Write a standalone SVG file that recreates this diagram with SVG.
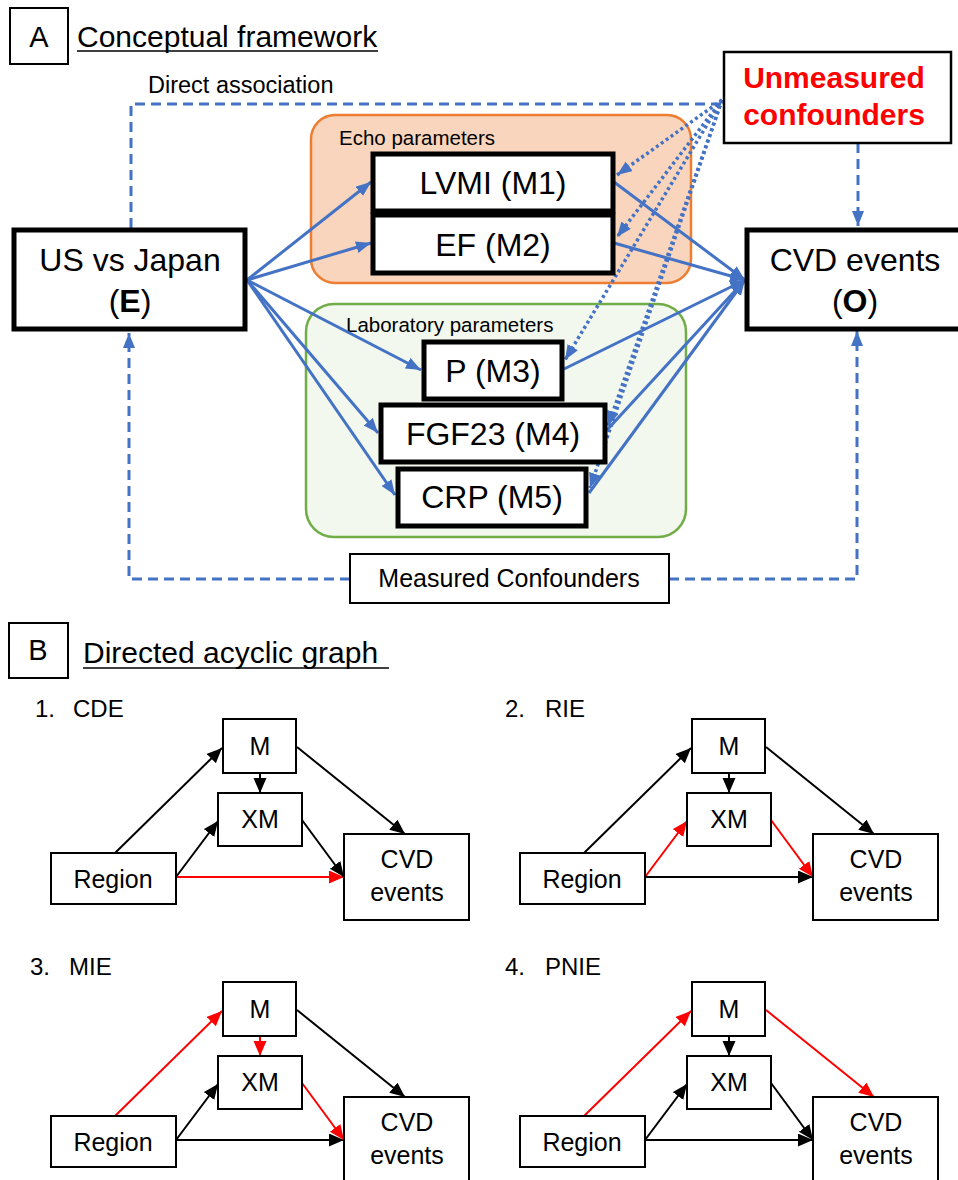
<svg xmlns="http://www.w3.org/2000/svg" width="958" height="1180" viewBox="0 0 958 1180">
<defs>
<style>
text{font-family:"Liberation Sans",Arial,sans-serif;fill:#000}
.title{font-size:30px}
.lbl{font-size:29px}
.big{font-size:32px}
.grp{font-size:20.5px}
.dag{font-size:25px}
.num{font-size:24px}
.thick{fill:#fff;stroke:#000;stroke-width:5}
.thin{fill:#fff;stroke:#000;stroke-width:2}
.bs{fill:none;stroke:#4472C4;stroke-width:3}
.bd{fill:none;stroke:#4472C4;stroke-width:3;stroke-dasharray:10 6}
.bo{fill:none;stroke:#4472C4;stroke-width:3.5;stroke-dasharray:3 3}
.k{fill:none;stroke:#000;stroke-width:2;marker-end:url(#ak)}
.r{fill:none;stroke:#FF0000;stroke-width:2;marker-end:url(#ar)}
</style>
<marker id="ab" markerUnits="userSpaceOnUse" markerWidth="16" markerHeight="13" refX="15" refY="6" orient="auto"><path d="M0,0 L15,6 L0,12 z" fill="#4472C4"/></marker>
<marker id="ak" markerUnits="userSpaceOnUse" markerWidth="16" markerHeight="14" refX="15" refY="6.5" orient="auto"><path d="M0,0 L15,6.5 L0,13 z" fill="#000"/></marker>
<marker id="ar" markerUnits="userSpaceOnUse" markerWidth="16" markerHeight="14" refX="15" refY="6.5" orient="auto"><path d="M0,0 L15,6.5 L0,13 z" fill="#FF0000"/></marker>
</defs>
<rect width="958" height="1180" fill="#fff"/>

<!-- Panel A header -->
<g id="panelA-label">
<rect x="10" y="8" width="58" height="56" fill="#fff" stroke="#000" stroke-width="2"/>
<text class="lbl" x="39" y="47" text-anchor="middle">A</text>
<text class="title" x="77" y="47">Conceptual framework</text>
<line x1="77" y1="51" x2="378" y2="51" stroke="#000" stroke-width="1.5"/>
</g>

<!-- group boxes -->
<g id="echo-group">
<rect x="311" y="115" width="380" height="168" rx="24" fill="#F8D5BC" stroke="#ED7D31" stroke-width="2.5"/>
<text class="grp" x="339" y="145">Echo parameters</text>
</g>
<g id="lab-group">
<rect x="306" y="304" width="380" height="233" rx="28" fill="#F2F8EE" stroke="#70AD47" stroke-width="2.5"/>
<text class="grp" x="346" y="332">Laboratory parameters</text>
</g>

<text x="148" y="93" style="font-size:23.5px">Direct association</text>

<!-- connectors panel A -->
<g id="connectors-A">
<path class="bd" d="M131,228 V104 H722"/>
<path class="bd" d="M858,143 V226" marker-end="url(#ab)"/>
<path class="bd" d="M350,579 H129 V333" marker-end="url(#ab)"/>
<path class="bd" d="M669,579 H857 V331" marker-end="url(#ab)"/>

<line class="bs" x1="247" y1="280" x2="371" y2="182" marker-end="url(#ab)"/>
<line class="bs" x1="247" y1="280" x2="371" y2="243" marker-end="url(#ab)"/>
<line class="bs" x1="247" y1="280" x2="421" y2="370" marker-end="url(#ab)"/>
<line class="bs" x1="247" y1="280" x2="378" y2="433" marker-end="url(#ab)"/>
<line class="bs" x1="247" y1="280" x2="395" y2="495" marker-end="url(#ab)"/>

<line class="bs" x1="614" y1="182" x2="745" y2="280" marker-end="url(#ab)"/>
<line class="bs" x1="614" y1="243" x2="745" y2="280" marker-end="url(#ab)"/>
<line class="bs" x1="564" y1="369" x2="745" y2="280" marker-end="url(#ab)"/>
<line class="bs" x1="607" y1="430" x2="745" y2="280" marker-end="url(#ab)"/>
<line class="bs" x1="589" y1="493" x2="745" y2="280" marker-end="url(#ab)"/>

<line class="bo" x1="722" y1="100" x2="617" y2="175" marker-end="url(#ab)"/>
<line class="bo" x1="722" y1="100" x2="617" y2="237" marker-end="url(#ab)"/>
<line class="bo" x1="722" y1="100" x2="565" y2="360" marker-end="url(#ab)"/>
<line class="bo" x1="722" y1="100" x2="608" y2="426" marker-end="url(#ab)"/>
<line class="bo" x1="722" y1="100" x2="590" y2="488" marker-end="url(#ab)"/>
</g>

<!-- nodes panel A -->
<g id="node-E">
<rect class="thick" x="14" y="230" width="231" height="99"/>
<text class="big" x="130" y="271" text-anchor="middle">US vs Japan</text>
<text class="big" x="130" y="312" text-anchor="middle">(<tspan font-weight="bold">E</tspan>)</text>
</g>
<g id="node-O">
<rect class="thick" x="747" y="230" width="216" height="99"/>
<text class="big" x="855" y="271" text-anchor="middle">CVD events</text>
<text class="big" x="855" y="312" text-anchor="middle">(<tspan font-weight="bold">O</tspan>)</text>
</g>
<g id="node-M1">
<rect class="thick" x="373" y="154" width="240" height="57"/>
<text class="big" x="493" y="194" text-anchor="middle">LVMI (M1)</text>
</g>
<g id="node-M2">
<rect class="thick" x="373" y="215" width="240" height="58"/>
<text class="big" x="493" y="256" text-anchor="middle">EF (M2)</text>
</g>
<g id="node-M3">
<rect class="thick" x="424" y="342" width="138" height="57"/>
<text class="big" x="493" y="382" text-anchor="middle">P (M3)</text>
</g>
<g id="node-M4">
<rect class="thick" x="381" y="405" width="224" height="57"/>
<text class="big" x="493" y="445" text-anchor="middle">FGF23 (M4)</text>
</g>
<g id="node-M5">
<rect class="thick" x="398" y="469" width="188" height="57"/>
<text class="big" x="492" y="508" text-anchor="middle">CRP (M5)</text>
</g>
<g id="node-unmeasured">
<rect x="724" y="52" width="227" height="91" fill="#fff" stroke="#000" stroke-width="2.5"/>
<text x="834" y="88" text-anchor="middle" font-weight="bold" style="font-size:30px;fill:#FF0000">Unmeasured</text>
<text x="834" y="125" text-anchor="middle" font-weight="bold" style="font-size:30px;fill:#FF0000">confounders</text>
</g>
<g id="node-measured">
<rect x="350" y="554" width="319" height="49" fill="#fff" stroke="#000" stroke-width="2"/>
<text x="509" y="587" text-anchor="middle" style="font-size:25px">Measured Confounders</text>
</g>

<!-- Panel B header -->
<g id="panelB-label">
<rect x="9" y="623" width="59" height="55" fill="#fff" stroke="#000" stroke-width="2"/>
<text class="lbl" x="38" y="660" text-anchor="middle">B</text>
<text class="title" x="83" y="663">Directed acyclic graph</text>
<line x1="83" y1="668" x2="389" y2="668" stroke="#000" stroke-width="1.5"/>
</g>

<!-- DAG 1 -->
<g id="dag1">
<text class="num" x="35" y="717">1.</text><text class="num" x="73" y="717">CDE</text>
<g id="dag1-connectors">
<line class="k" x1="115" y1="853" x2="222" y2="748"/>
<line class="k" x1="260" y1="773" x2="260" y2="793"/>
<line class="k" x1="176" y1="877" x2="218" y2="821"/>
<line class="r" x1="176" y1="877" x2="344" y2="877"/>
<line class="k" x1="302" y1="820" x2="344" y2="877"/>
<line class="k" x1="297" y1="747" x2="405" y2="834"/>
</g>
<g id="dag1-M"><rect class="thin" x="223" y="719" width="73" height="54"/><text class="dag" x="260" y="755" text-anchor="middle">M</text></g>
<g id="dag1-XM"><rect class="thin" x="218" y="793" width="84" height="53"/><text class="dag" x="260" y="828" text-anchor="middle">XM</text></g>
<g id="dag1-Region"><rect class="thin" x="51" y="853" width="125" height="51"/><text class="dag" x="113" y="888" text-anchor="middle">Region</text></g>
<g id="dag1-CVD"><rect class="thin" x="344" y="834" width="125" height="86"/><text class="dag" x="407" y="868" text-anchor="middle">CVD</text><text class="dag" x="407" y="901" text-anchor="middle">events</text></g>
</g>

<!-- DAG 2 -->
<g id="dag2">
<text class="num" x="505" y="717">2.</text><text class="num" x="545" y="717">RIE</text>
<g id="dag2-connectors">
<line class="k" x1="584" y1="853" x2="691" y2="748"/>
<line class="k" x1="729" y1="773" x2="729" y2="793"/>
<line class="r" x1="645" y1="877" x2="687" y2="821"/>
<line class="k" x1="645" y1="877" x2="813" y2="877"/>
<line class="r" x1="771" y1="820" x2="813" y2="877"/>
<line class="k" x1="766" y1="747" x2="874" y2="834"/>
</g>
<g id="dag2-M"><rect class="thin" x="692" y="719" width="73" height="54"/><text class="dag" x="729" y="755" text-anchor="middle">M</text></g>
<g id="dag2-XM"><rect class="thin" x="687" y="793" width="84" height="53"/><text class="dag" x="729" y="828" text-anchor="middle">XM</text></g>
<g id="dag2-Region"><rect class="thin" x="520" y="853" width="125" height="51"/><text class="dag" x="582" y="888" text-anchor="middle">Region</text></g>
<g id="dag2-CVD"><rect class="thin" x="813" y="834" width="125" height="86"/><text class="dag" x="876" y="868" text-anchor="middle">CVD</text><text class="dag" x="876" y="901" text-anchor="middle">events</text></g>
</g>

<!-- DAG 3 -->
<g id="dag3">
<text class="num" x="30" y="975">3.</text><text class="num" x="69" y="975">MIE</text>
<g id="dag3-connectors">
<line class="r" x1="115" y1="1116" x2="222" y2="1011"/>
<line class="r" x1="260" y1="1036" x2="260" y2="1056"/>
<line class="k" x1="176" y1="1140" x2="218" y2="1084"/>
<line class="k" x1="176" y1="1140" x2="344" y2="1140"/>
<line class="r" x1="302" y1="1083" x2="344" y2="1140"/>
<line class="k" x1="297" y1="1010" x2="405" y2="1097"/>
</g>
<g id="dag3-M"><rect class="thin" x="223" y="982" width="73" height="54"/><text class="dag" x="260" y="1018" text-anchor="middle">M</text></g>
<g id="dag3-XM"><rect class="thin" x="218" y="1056" width="84" height="53"/><text class="dag" x="260" y="1091" text-anchor="middle">XM</text></g>
<g id="dag3-Region"><rect class="thin" x="51" y="1116" width="125" height="51"/><text class="dag" x="113" y="1151" text-anchor="middle">Region</text></g>
<g id="dag3-CVD"><rect class="thin" x="344" y="1097" width="125" height="86"/><text class="dag" x="407" y="1131" text-anchor="middle">CVD</text><text class="dag" x="407" y="1164" text-anchor="middle">events</text></g>
</g>

<!-- DAG 4 -->
<g id="dag4">
<text class="num" x="505" y="975">4.</text><text class="num" x="545" y="975">PNIE</text>
<g id="dag4-connectors">
<line class="r" x1="584" y1="1116" x2="691" y2="1011"/>
<line class="k" x1="729" y1="1036" x2="729" y2="1056"/>
<line class="k" x1="645" y1="1140" x2="687" y2="1084"/>
<line class="k" x1="645" y1="1140" x2="813" y2="1140"/>
<line class="k" x1="771" y1="1083" x2="813" y2="1140"/>
<line class="r" x1="766" y1="1010" x2="874" y2="1097"/>
</g>
<g id="dag4-M"><rect class="thin" x="692" y="982" width="73" height="54"/><text class="dag" x="729" y="1018" text-anchor="middle">M</text></g>
<g id="dag4-XM"><rect class="thin" x="687" y="1056" width="84" height="53"/><text class="dag" x="729" y="1091" text-anchor="middle">XM</text></g>
<g id="dag4-Region"><rect class="thin" x="520" y="1116" width="125" height="51"/><text class="dag" x="582" y="1151" text-anchor="middle">Region</text></g>
<g id="dag4-CVD"><rect class="thin" x="813" y="1097" width="125" height="86"/><text class="dag" x="876" y="1131" text-anchor="middle">CVD</text><text class="dag" x="876" y="1164" text-anchor="middle">events</text></g>
</g>
</svg>
